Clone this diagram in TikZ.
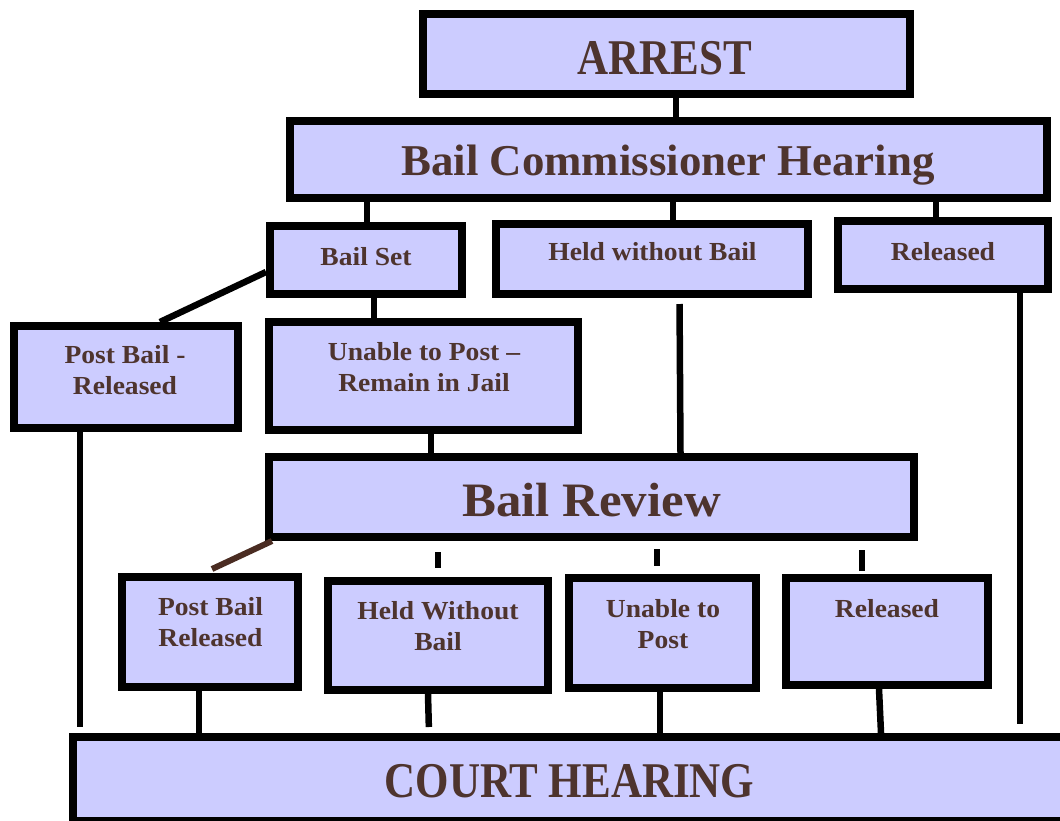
\documentclass[tikz,border=0pt]{standalone}
\usepackage{fontspec}
\setmainfont{Liberation Serif}[FakeStretch=1.06]
\newfontfamily\capsfont{Liberation Serif}[FakeStretch=0.86]
\newfontfamily\bchfont{Liberation Serif}[FakeStretch=1.02]
\definecolor{boxfill}{HTML}{CCCCFF}
\definecolor{txtcol}{HTML}{4E342E}
\definecolor{brownline}{HTML}{4A2C22}
\tikzset{
  box/.style={draw=black, fill=boxfill, line width=8pt, inner sep=0pt, rectangle},
  lbl/.style={text=txtcol, inner sep=0pt, anchor=north, align=center, font=\bfseries\fontsize{26}{31}\selectfont},
  conn/.style={draw=black, line width=6.5pt},
  bconn/.style={draw=brownline, line width=6pt},
}
\begin{document}
\begin{tikzpicture}[x=1pt,y=-1pt]
\useasboundingbox (0,0) rectangle (1060,820);
\clip (0,0) rectangle (1060,820);
% boxes
\node[box, minimum width=487pt, minimum height=80pt] (arrest) at (666.5,54) {};
\node[box, minimum width=757pt, minimum height=77pt] (bch) at (668.5,159.5) {};
\node[box, minimum width=192pt, minimum height=68pt] (bs) at (366,260) {};
\node[box, minimum width=312pt, minimum height=70pt] (hwb) at (652,259) {};
\node[box, minimum width=210pt, minimum height=68pt] (rel1) at (943,255) {};
\node[box, minimum width=224pt, minimum height=102pt] (pbr) at (126,377) {};
\node[box, minimum width=309pt, minimum height=108pt] (utp) at (423.5,376) {};
\node[box, minimum width=645pt, minimum height=80pt] (br) at (591.5,497) {};
\node[box, minimum width=176pt, minimum height=110pt] (pbr2) at (210,632) {};
\node[box, minimum width=220pt, minimum height=109pt] (hwb2) at (438,635.5) {};
\node[box, minimum width=187pt, minimum height=110pt] (utp2) at (662.5,633) {};
\node[box, minimum width=202pt, minimum height=107pt] (rel2) at (887,631.5) {};
\node[box, minimum width=993pt, minimum height=84pt] (court) at (569.5,779) {};
% connectors
\draw[conn] ([xshift=9.5pt]arrest.south) -- ([xshift=9.5pt]arrest.south |- bch.north);
\draw[conn] ([xshift=1pt]bs.north |- bch.south) -- ([xshift=1pt]bs.north);
\draw[conn] ([xshift=21pt]hwb.north |- bch.south) -- ([xshift=21pt]hwb.north);
\draw[conn] ([xshift=-7pt]rel1.north |- bch.south) -- ([xshift=-7pt]rel1.north);
\draw[conn] ([yshift=-12pt]bs.west) -- ([xshift=34pt]pbr.north);
\draw[conn] ([xshift=8pt]bs.south) -- ([xshift=8pt]bs.south |- utp.north);
\draw[conn] ([xshift=7.5pt]utp.south) -- ([xshift=7.5pt]utp.south |- br.north);
\draw[conn, shorten <=6pt] ([xshift=27.5pt]hwb.south) -- ([xshift=28.5pt]hwb.south |- br.north);
\draw[conn, shorten >=6pt] ([xshift=-46pt]pbr.south) -- ([xshift=-46pt]pbr.south |- court.north);
\draw[conn, shorten >=9pt] ([xshift=77pt]rel1.south) -- ([xshift=77pt]rel1.south |- court.north);
\draw[bconn] ([xshift=7pt]br.south west) -- ([xshift=2pt,yshift=4pt]pbr2.north);
\draw[conn, shorten <=11pt, shorten >=9pt] (hwb2.north |- br.south) -- (hwb2.north);
\draw[conn, shorten <=8pt, shorten >=8pt] ([xshift=-5.5pt]utp2.north |- br.south) -- ([xshift=-5.5pt]utp2.north);
\draw[conn, shorten <=9pt, shorten >=3pt] ([xshift=-25pt]rel2.north |- br.south) -- ([xshift=-25pt]rel2.north);
\draw[conn] ([xshift=-11pt]pbr2.south) -- ([xshift=-11pt]pbr2.south |- court.north);
\draw[conn, shorten >=6pt] ([xshift=-10pt]hwb2.south) -- ([xshift=-9pt]hwb2.south |- court.north);
\draw[conn] ([xshift=-2.5pt]utp2.south) -- ([xshift=-2.5pt]utp2.south |- court.north);
\draw[conn] ([xshift=-8pt]rel2.south) -- ([xshift=-6pt]rel2.south |- court.north);
% labels
\node[lbl, font=\capsfont\bfseries\fontsize{50}{60}\selectfont] (arrestt) at (665,41) {ARREST};
\node[lbl, font=\bchfont\bfseries\fontsize{44}{52}\selectfont] (bcht) at (668,145) {Bail Commissioner Hearing};
\node[lbl] (bst) at (366,247) {Bail Set};
\node[lbl] (hwbt) at (652.5,242) {Held without Bail};
\node[lbl] (rel1t) at (943,242) {Released};
\node[lbl] (pbrt) at (125,345) {Post Bail -\\Released};
\node[lbl] (utpt) at (424,342) {Unable to Post –\\Remain in Jail};
\node[lbl, font=\bfseries\fontsize{48}{56}\selectfont] (brt) at (591.5,483) {Bail Review};
\node[lbl] (pbr2t) at (210.5,597) {Post Bail\\Released};
\node[lbl] (hwb2t) at (438,601) {Held Without\\Bail};
\node[lbl] (utp2t) at (663,599) {Unable to\\Post};
\node[lbl] (rel2t) at (887,599) {Released};
\node[lbl, font=\capsfont\bfseries\fontsize{50}{60}\selectfont] (courtt) at (569.5,764) {COURT HEARING};
\end{tikzpicture}
\end{document}
